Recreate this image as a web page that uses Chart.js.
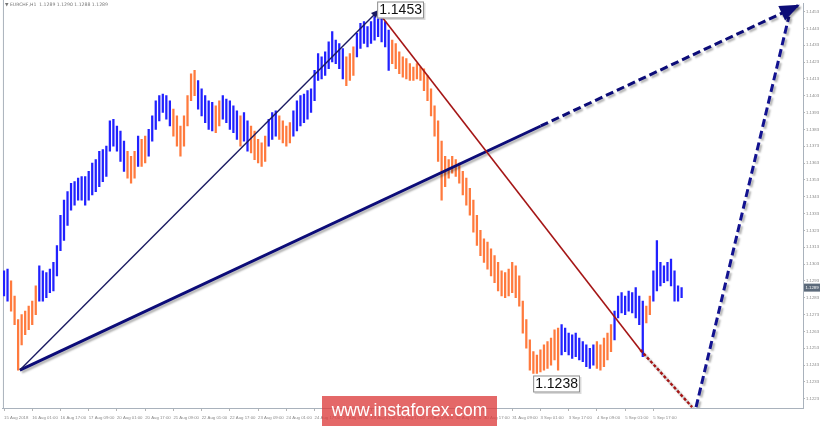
<!DOCTYPE html>
<html>
<head>
<meta charset="utf-8">
<script src="https://cdn.jsdelivr.net/npm/chart.js@4.4.1/dist/chart.umd.min.js"></script>
<style>
  html, body { margin: 0; padding: 0; background: #fff; }
</style>
</head>
<body>
<canvas id="priceChart" width="820" height="426"></canvas>
<script>
const highs = [
  1.1299,1.1300,1.1293,1.1284,1.1270,1.1273,1.1275,1.1278,1.1281,1.1290,
  1.1302,1.1299,1.1298,1.1300,1.1304,1.1314,1.1332,1.1341,1.1346,1.1351,
  1.1352,1.1354,1.1355,1.1355,1.1358,1.1363,1.1365,1.1370,1.1371,1.1373,
  1.1388,1.1389,1.1385,1.1382,1.1376,1.1370,1.1367,1.1370,1.1379,1.1377,
  1.1379,1.1383,1.1391,1.1400,1.1403,1.1404,1.1403,1.1400,1.1395,1.1391,
  1.1385,1.1391,1.1403,1.1416,1.1418,1.1412,1.1407,1.1403,1.1400,1.1399,
  1.1397,1.1400,1.1403,1.1401,1.1400,1.1397,1.1394,1.1391,1.1393,1.1388,
  1.1385,1.1382,1.1377,1.1375,1.1379,1.1389,1.1393,1.1394,1.1391,1.1388,
  1.1385,1.1387,1.1394,1.1400,1.1403,1.1404,1.1406,1.1407,1.1418,1.1428,
  1.1426,1.1429,1.1435,1.1441,1.1436,1.1434,1.1431,1.1426,1.1428,1.1432,
  1.1440,1.1446,1.1447,1.1444,1.1447,1.1450,1.1453,1.1451,1.1447,1.1442,
  1.1436,1.1434,1.1429,1.1426,1.1425,1.1422,1.1420,1.1422,1.1420,1.1419,
  1.1415,1.1407,1.1397,1.1388,1.1376,1.1367,1.1365,1.1367,1.1365,1.1363,
  1.1358,1.1354,1.1348,1.1341,1.1332,1.1323,1.1318,1.1316,1.1312,1.1308,
  1.1304,1.1299,1.1298,1.1300,1.1304,1.1302,1.1296,1.1281,1.1270,1.1258,
  1.1251,1.1249,1.1252,1.1255,1.1257,1.1259,1.1264,1.1265,1.1267,1.1265,
  1.1262,1.1261,1.1262,1.1259,1.1257,1.1255,1.1253,1.1255,1.1257,1.1255,
  1.1259,1.1262,1.1267,1.1275,1.1284,1.1286,1.1284,1.1287,1.1286,1.1289,
  1.1284,1.1281,1.1278,1.1284,1.1299,1.1317,1.1304,1.1302,1.1304,1.1306,
  1.1299,1.1290,1.1289
];
const lows = [
  1.1284,1.1281,1.1275,1.1267,1.1240,1.1255,1.1261,1.1264,1.1267,1.1273,
  1.1281,1.1281,1.1283,1.1286,1.1287,1.1296,1.1311,1.1317,1.1326,1.1335,
  1.1338,1.1341,1.1341,1.1338,1.1341,1.1344,1.1346,1.1349,1.1352,1.1355,
  1.1370,1.1373,1.1370,1.1364,1.1358,1.1354,1.1351,1.1354,1.1361,1.1361,
  1.1363,1.1367,1.1376,1.1383,1.1388,1.1393,1.1389,1.1385,1.1379,1.1373,
  1.1367,1.1373,1.1385,1.1400,1.1403,1.1395,1.1391,1.1387,1.1383,1.1382,
  1.1381,1.1385,1.1389,1.1387,1.1383,1.1381,1.1377,1.1373,1.1376,1.1370,
  1.1369,1.1365,1.1363,1.1361,1.1364,1.1373,1.1377,1.1379,1.1377,1.1375,
  1.1373,1.1375,1.1379,1.1382,1.1385,1.1387,1.1389,1.1393,1.1400,1.1412,
  1.1413,1.1415,1.1419,1.1423,1.1422,1.1419,1.1413,1.1409,1.1412,1.1415,
  1.1426,1.1431,1.1434,1.1432,1.1434,1.1436,1.1438,1.1435,1.1432,1.1418,
  1.1422,1.1419,1.1416,1.1414,1.1413,1.1412,1.1412,1.1413,1.1412,1.1406,
  1.1400,1.1391,1.1379,1.1364,1.1341,1.1349,1.1354,1.1357,1.1355,1.1351,
  1.1344,1.1338,1.1332,1.1322,1.1314,1.1308,1.1304,1.1300,1.1296,1.1292,
  1.1287,1.1284,1.1283,1.1284,1.1286,1.1283,1.1278,1.1262,1.1253,1.1240,
  1.1238,1.1238,1.1239,1.1240,1.1241,1.1243,1.1246,1.1240,1.1249,1.1251,
  1.1249,1.1247,1.1248,1.1246,1.1245,1.1242,1.1241,1.1243,1.1241,1.1240,
  1.1242,1.1246,1.1251,1.1258,1.1271,1.1274,1.1273,1.1275,1.1274,1.1271,
  1.1267,1.1248,1.1268,1.1273,1.1281,1.1287,1.1290,1.1292,1.1293,1.1290,
  1.1281,1.1281,1.1283
];
// runs of up (u) / down (d) coloured bars
const trendRuns = [[2,'u'],[8,'d'],[25,'u'],[3,'d'],[1,'u'],[2,'d'],[7,'u'],[7,'d'],[5,'u'],[2,'d'],
  [5,'u'],[1,'d'],[2,'u'],[5,'d'],[3,'u'],[4,'d'],[15,'u'],[3,'d'],[10,'u'],[48,'d'],
  [10,'u'],[5,'d'],[9,'u'],[2,'d'],[9,'u']];

const timeLabels = ['15 Aug 2018','16 Aug 01:00','16 Aug 17:00','17 Aug 09:00','20 Aug 01:00','20 Aug 17:00',
  '21 Aug 09:00','22 Aug 01:00','22 Aug 17:00','23 Aug 09:00','24 Aug 01:00','24 Aug 17:00','27 Aug 09:00',
  '28 Aug 01:00','28 Aug 17:00','29 Aug 09:00','30 Aug 01:00','30 Aug 17:00','31 Aug 09:00','3 Sep 01:00',
  '3 Sep 17:00','4 Sep 09:00','5 Sep 01:00','5 Sep 17:00'];
const timeTickBars = timeLabels.map((_, i) => i * 8);

const priceTicks = [1.1453,1.1443,1.1433,1.1423,1.1413,1.1403,1.1393,1.1383,1.1373,1.1363,1.1353,1.1343,
  1.1333,1.1323,1.1313,1.1303,1.1293,1.1283,1.1273,1.1263,1.1253,1.1243,1.1233,1.1223];

const symbolTitle = 'EURCHF,H1';
const lastQuote = ['1.1289', '1.1290', '1.1288', '1.1289'];
const lastPrice = 1.1289;

// wave marks: [bar, price]
const waveHigh = [106.3, 1.1453];
const waveLow = [150.5, 1.1238];
const thinArrowPts = [[4.5, 1.1240], [106.3, 1.1454]];
const thickSolidPts = [[4.5, 1.1240], [152.1, 1.1385]];
const thickDashPts = [[152.1, 1.1385], [225.5, 1.1457]];
const redSolidPts = [[106.3, 1.1452], [180.3, 1.1252]];
const redDashPts = [[180.3, 1.1252], [195, 1.1218]];
const blueDashPts = [[196.1, 1.1218], [222.4, 1.1450]];

const trend = trendRuns.flatMap(([n, t]) => Array(n).fill(t));
const upColor = '#2121ff';
const downColor = '#ff7a3d';
const navy = '#0c0c78';
const darkRed = '#a51616';
const tickFont = { family: 'Liberation Sans', size: 4.3 };

const toXY = pts => pts.map(([x, y]) => ({ x, y }));

function lineSet(pts, color, width, dash, shadow) {
  return {
    type: 'line',
    data: toXY(pts),
    borderColor: color,
    borderWidth: width,
    borderDash: dash || [],
    borderCapStyle: 'butt',
    pointRadius: 0,
    tension: 0,
    fill: false,
    shadow: shadow
  };
}

function arrowHead(c, p1, p2, len, half, color) {
  const a = Math.atan2(p2.y - p1.y, p2.x - p1.x);
  const bx = p2.x - len * Math.cos(a), by = p2.y - len * Math.sin(a);
  c.beginPath();
  c.moveTo(p2.x, p2.y);
  c.lineTo(bx + half * Math.sin(a), by - half * Math.cos(a));
  c.lineTo(bx - half * Math.sin(a), by + half * Math.cos(a));
  c.closePath();
  c.fillStyle = color;
  c.fill();
}

function px(chart, pt) {
  return { x: chart.scales.x.getPixelForValue(pt[0]), y: chart.scales.y.getPixelForValue(pt[1]) };
}

function priceBox(c, x, y, text) {
  c.save();
  c.font = '14px "Liberation Sans"';
  const w = c.measureText(text).width + 4;
  c.fillStyle = 'rgba(0,0,0,0.15)';
  c.fillRect(x + 1.5, y + 1.5, w, 17);
  c.fillStyle = '#fff';
  c.fillRect(x, y, w, 17);
  c.strokeStyle = '#8c8c8c';
  c.lineWidth = 1;
  c.strokeRect(x + 0.5, y + 0.5, w - 1, 16);
  c.fillStyle = '#111';
  c.textBaseline = 'middle';
  c.fillText(text, x + 2, y + 9);
  c.restore();
}

const shadowPlugin = {
  id: 'shadow',
  beforeDatasetDraw(chart, args) {
    const ds = chart.data.datasets[args.index];
    chart.ctx.save();
    if (ds.shadow) {
      chart.ctx.shadowColor = 'rgba(0,0,0,0.3)';
      chart.ctx.shadowOffsetX = 2;
      chart.ctx.shadowOffsetY = 2;
      chart.ctx.shadowBlur = 2;
    }
  },
  afterDatasetDraw(chart) {
    chart.ctx.restore();
  }
};

const marksPlugin = {
  id: 'marks',
  beforeDraw(chart) {
    const c = chart.ctx, a = chart.chartArea;
    c.save();
    c.fillStyle = '#fff';
    c.fillRect(0, 0, chart.width, chart.height);
    c.strokeStyle = '#a9b2bc';
    c.lineWidth = 1;
    c.beginPath();
    c.moveTo(a.left + 0.5, 0);
    c.lineTo(a.left + 0.5, a.bottom);
    c.stroke();
    c.fillStyle = '#777';
    c.font = '4.6px "DejaVu Sans"';
    c.textBaseline = 'middle';
    c.fillText('\u25BC ' + symbolTitle + '  ' + lastQuote.join(' '), a.left + 2, 5);
    c.restore();
  },
  afterDatasetsDraw(chart) {
    const c = chart.ctx;
    c.save();
    arrowHead(c, px(chart, thinArrowPts[0]), px(chart, thinArrowPts[1]), 8, 3.5, '#1a1a62');
    c.shadowColor = 'rgba(0,0,0,0.3)';
    c.shadowOffsetX = 2;
    c.shadowOffsetY = 2;
    c.shadowBlur = 2;
    arrowHead(c, px(chart, thickDashPts[0]), px(chart, thickDashPts[1]), 20, 8, navy);
    c.restore();
    const h = px(chart, waveHigh);
    priceBox(c, h.x - 2, h.y - 10, waveHigh[1].toFixed(4));
    const l = px(chart, waveLow);
    priceBox(c, l.x - 2, l.y + 2, waveLow[1].toFixed(4));
  },
  afterDraw(chart) {
    const c = chart.ctx, a = chart.chartArea;
    c.save();
    // current price tag on the axis
    const y = chart.scales.y.getPixelForValue(lastPrice);
    c.fillStyle = '#5d6b7b';
    c.fillRect(a.right + 1, y - 4, chart.width - a.right - 1, 8);
    c.fillStyle = '#fff';
    c.font = tickFont.size + 'px "Liberation Sans"';
    c.textBaseline = 'middle';
    c.fillText(lastPrice.toFixed(4), a.right + 2.5, y);
    // watermark
    c.fillStyle = 'rgba(221, 62, 62, 0.78)';
    c.fillRect(322, 396, 175, 30);
    c.fillStyle = '#fff';
    c.font = '17.5px "Liberation Sans"';
    c.textAlign = 'center';
    c.fillText('www.instaforex.com', 409.5, 411.5);
    c.restore();
  }
};

const config = {
  type: 'bar',
  data: {
    datasets: [
      lineSet(thinArrowPts, '#1a1a62', 1.4, null, false),
      lineSet(redSolidPts, darkRed, 1.6, null, false),
      lineSet(redDashPts, darkRed, 2.5, [3, 2], true),
      lineSet(thickSolidPts, navy, 3, null, true),
      lineSet(thickDashPts, navy, 3, [8, 4], true),
      lineSet(blueDashPts, '#121290', 3, [8, 4], true),
      {
        type: 'bar',
        data: highs.map((hi, i) => ({ x: i, y: [lows[i], hi] })),
        backgroundColor: trend.map(t => t === 'u' ? upColor : downColor),
        borderWidth: 0,
        barThickness: 1.6
      }
    ]
  },
  options: {
    responsive: false,
    animation: false,
    layout: { padding: { left: 1, top: 2, right: 0, bottom: 0 } },
    scales: {
      x: {
        type: 'linear',
        offset: false,
        min: -0.3,
        max: 226.4,
        position: 'bottom',
        border: { color: '#a9b2bc' },
        grid: { offset: false, drawOnChartArea: false, tickLength: 3, color: '#b5b5b5' },
        afterBuildTicks: s => { s.ticks = timeTickBars.map(v => ({ value: v })); },
        afterFit: s => { s.height = 18; },
        ticks: {
          autoSkip: false,
          maxRotation: 0,
          align: 'start',
          padding: 4,
          color: '#8a8a8a',
          font: tickFont,
          callback: (v, i) => timeLabels[i]
        }
      },
      y: {
        position: 'right',
        min: 1.12175,
        max: 1.14577,
        border: { color: '#a9b2bc' },
        grid: { drawOnChartArea: false, tickLength: 2, color: '#b5b5b5' },
        afterBuildTicks: s => { s.ticks = priceTicks.map(v => ({ value: v })); },
        afterFit: s => { s.width = 17; },
        ticks: {
          padding: 1,
          color: '#8a8a8a',
          font: tickFont,
          callback: v => v.toFixed(4)
        }
      }
    },
    plugins: {
      legend: { display: false },
      tooltip: { enabled: false }
    }
  },
  plugins: [shadowPlugin, marksPlugin]
};

new Chart(document.getElementById('priceChart'), config);
</script>
</body>
</html>
